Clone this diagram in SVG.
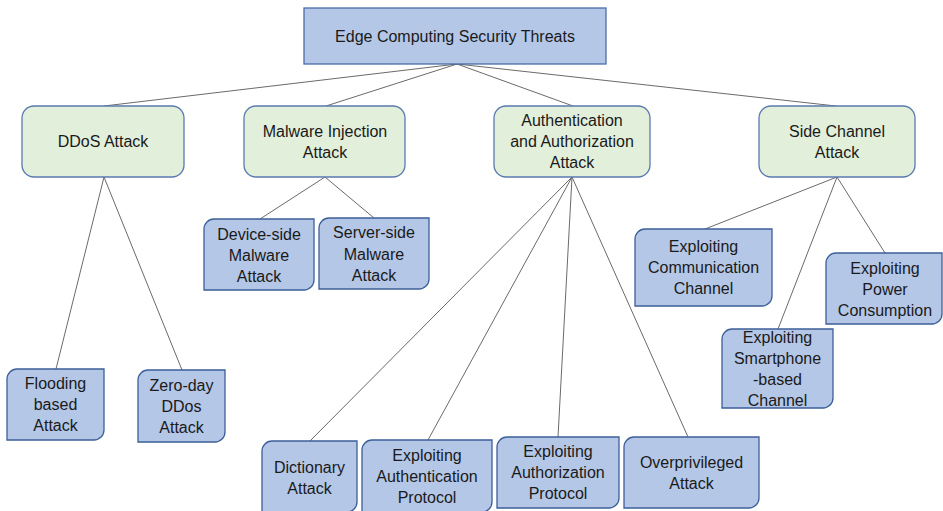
<svg xmlns="http://www.w3.org/2000/svg" width="943" height="511" viewBox="0 0 943 511">
<style>
text{font-family:"Liberation Sans",Arial,sans-serif;font-size:16px;fill:#1a1a1a;text-anchor:middle}
.top{fill:#b4c7e7;stroke:#4a6ea9;stroke-width:1.3}
.mid{fill:#e2efda;stroke:#5a7ab0;stroke-width:1.3}
.leaf{fill:#b4c7e7;stroke:#3d5f99;stroke-width:1.3}
.conn line{stroke:#6a6a6a;stroke-width:1}
</style>
<rect width="943" height="511" fill="#ffffff"/>
<g class="conn">
<line x1="457" y1="64" x2="104" y2="106"/>
<line x1="457" y1="64" x2="326" y2="106"/>
<line x1="457" y1="64" x2="573" y2="106"/>
<line x1="457" y1="64" x2="836" y2="106"/>
<line x1="104" y1="177" x2="56" y2="369"/>
<line x1="104" y1="177" x2="182" y2="370"/>
<line x1="325" y1="177" x2="260" y2="219"/>
<line x1="325" y1="177" x2="374" y2="218"/>
<line x1="572" y1="177" x2="310" y2="441"/>
<line x1="572" y1="177" x2="428" y2="440"/>
<line x1="572" y1="177" x2="558" y2="437"/>
<line x1="572" y1="177" x2="688" y2="437"/>
<line x1="837" y1="177" x2="705" y2="229"/>
<line x1="837" y1="177" x2="778" y2="329"/>
<line x1="837" y1="177" x2="885" y2="253"/>
</g>
<g id="root">
<rect class="top" x="304" y="8" width="302" height="56"/>
<text x="455" y="42">Edge Computing Security Threats</text>
</g>
<g id="ddos">
<rect class="mid" x="22" y="106" width="162" height="71" rx="12"/>
<text x="103" y="147">DDoS Attack</text>
</g>
<g id="malware">
<rect class="mid" x="244" y="106" width="161" height="71" rx="12"/>
<text x="325" y="137">Malware Injection</text>
<text x="325" y="158">Attack</text>
</g>
<g id="auth">
<rect class="mid" x="494" y="106" width="156" height="71" rx="12"/>
<text x="572" y="126">Authentication</text>
<text x="572" y="147">and Authorization</text>
<text x="572" y="168">Attack</text>
</g>
<g id="side">
<rect class="mid" x="759" y="106" width="156" height="71" rx="12"/>
<text x="837" y="137">Side Channel</text>
<text x="837" y="158">Attack</text>
</g>
<g id="device">
<path class="leaf" d="M214,219 H314 V280 A10,10 0 0 1 304,290 H204 V229 A10,10 0 0 1 214,219 Z"/>
<text x="259" y="240">Device-side</text>
<text x="259" y="261">Malware</text>
<text x="259" y="282">Attack</text>
</g>
<g id="server">
<path class="leaf" d="M329,218 H429 V279 A10,10 0 0 1 419,289 H319 V228 A10,10 0 0 1 329,218 Z"/>
<text x="374" y="238">Server-side</text>
<text x="374" y="260">Malware</text>
<text x="374" y="281">Attack</text>
</g>
<g id="comm">
<path class="leaf" d="M645,229 H772 V296 A10,10 0 0 1 762,306 H635 V239 A10,10 0 0 1 645,229 Z"/>
<text x="703.5" y="252">Exploiting</text>
<text x="703.5" y="273">Communication</text>
<text x="703.5" y="294">Channel</text>
</g>
<g id="power">
<path class="leaf" d="M836,253 H942 V314 A10,10 0 0 1 932,324 H826 V263 A10,10 0 0 1 836,253 Z"/>
<text x="885" y="274">Exploiting</text>
<text x="885" y="295">Power</text>
<text x="885" y="316">Consumption</text>
</g>
<g id="smartphone">
<path class="leaf" d="M732,329 H833 V398 A10,10 0 0 1 823,408 H722 V339 A10,10 0 0 1 732,329 Z"/>
<text x="777.5" y="343">Exploiting</text>
<text x="777.5" y="364">Smartphone</text>
<text x="777.5" y="385">-based</text>
<text x="777.5" y="406">Channel</text>
</g>
<g id="flooding">
<path class="leaf" d="M17,369 H104 V430 A10,10 0 0 1 94,440 H7 V379 A10,10 0 0 1 17,369 Z"/>
<text x="55.5" y="389">Flooding</text>
<text x="55.5" y="410">based</text>
<text x="55.5" y="431">Attack</text>
</g>
<g id="zeroday">
<path class="leaf" d="M148,370 H225 V432 A10,10 0 0 1 215,442 H138 V380 A10,10 0 0 1 148,370 Z"/>
<text x="181.5" y="391">Zero-day</text>
<text x="181.5" y="412">DDos</text>
<text x="181.5" y="433">Attack</text>
</g>
<g id="dictionary">
<path class="leaf" d="M272,441 H357 V502 A10,10 0 0 1 347,512 H262 V451 A10,10 0 0 1 272,441 Z"/>
<text x="309.5" y="473">Dictionary</text>
<text x="309.5" y="494">Attack</text>
</g>
<g id="authproto">
<path class="leaf" d="M372,440 H492 V502 A10,10 0 0 1 482,512 H362 V450 A10,10 0 0 1 372,440 Z"/>
<text x="427" y="461">Exploiting</text>
<text x="427" y="482">Authentication</text>
<text x="427" y="503">Protocol</text>
</g>
<g id="authzproto">
<path class="leaf" d="M507,437 H619 V498 A10,10 0 0 1 609,508 H497 V447 A10,10 0 0 1 507,437 Z"/>
<text x="558" y="457">Exploiting</text>
<text x="558" y="478">Authorization</text>
<text x="558" y="499">Protocol</text>
</g>
<g id="overpriv">
<path class="leaf" d="M634,437 H759 V498 A10,10 0 0 1 749,508 H624 V447 A10,10 0 0 1 634,437 Z"/>
<text x="691.5" y="468">Overprivileged</text>
<text x="691.5" y="489">Attack</text>
</g>
</svg>
